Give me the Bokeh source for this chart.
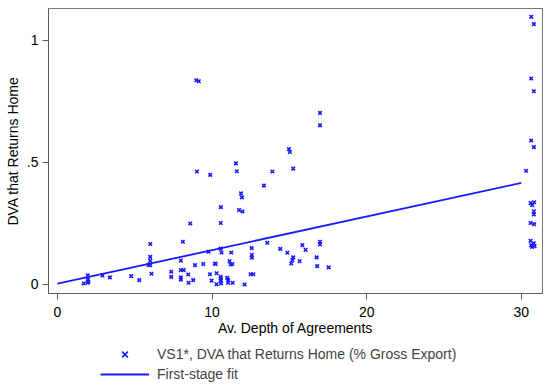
from bokeh.plotting import figure
from bokeh.layouts import column
from bokeh.models import FixedTicker, Range1d, Legend, LegendItem
from bokeh.embed import file_html
from bokeh.resources import INLINE

# Scatter: Av. Depth of Agreements vs VS1* (DVA that returns home)
depth = [1.7, 1.96, 1.96, 1.96, 2.0, 2.91, 3.39, 4.77, 5.29,
         5.89, 6.0, 6.0, 6.0, 6.0, 6.08,
         7.36, 7.36, 7.98, 7.98, 8.17, 7.98, 7.98, 8.11, 8.46, 8.48, 8.59, 8.78, 8.9,
         8.98, 9.14, 9.02, 9.43, 9.77, 9.86, 9.88, 9.97,
         10.18, 10.23, 10.29, 10.29, 10.55, 10.61, 10.57, 10.56,
         10.56, 10.56, 10.57, 10.57, 10.98, 11.04, 11.04, 11.33,
         11.13, 11.2, 11.31, 11.24, 11.54, 11.6, 11.74, 11.97, 11.87, 11.93, 12.1,
         12.49, 12.67, 12.56, 12.57, 12.57, 13.35, 13.57, 13.9,
         14.41, 14.87, 14.97, 15.03, 15.25, 15.25, 15.19, 15.12, 15.66,
         15.84, 16.05, 16.76, 16.8, 16.98, 16.98, 16.98, 16.98, 17.54,
         30.31, 30.64, 30.81, 30.64, 30.81, 30.64, 30.81,
         30.6, 30.83, 30.7, 30.81, 30.81, 30.6, 30.83,
         30.6, 30.64, 30.81, 30.86, 30.7]
vs1 = [0.004, 0.037, 0.02, 0.007, 0.012, 0.037, 0.029, 0.034, 0.018,
       0.08, 0.166, 0.113, 0.097, 0.079, 0.044,
       0.052, 0.031, 0.098, 0.059, 0.059, 0.029, 0.020, 0.175, 0.041, 0.007, 0.25, 0.018, 0.079,
       0.837, 0.833, 0.463, 0.084, 0.134, 0.042, 0.449, 0.016,
       0.086, 0.084, 0.046, 0.001, 0.147, 0.131, 0.317, 0.252,
       0.031, 0.024, 0.016, 0.004, 0.027, 0.018, 0.007, 0.007,
       0.095, 0.082, 0.084, 0.131, 0.496, 0.464, 0.305, 0.299, 0.373, 0.357, 0.0,
       0.042, 0.042, 0.149, 0.121, 0.11, 0.405, 0.171, 0.463,
       0.146, 0.13, 0.555, 0.543, 0.475, 0.111, 0.1, 0.086, 0.095,
       0.161, 0.142, 0.111, 0.075, 0.703, 0.652, 0.175, 0.164, 0.07,
       0.466, 1.097, 1.067, 0.844, 0.792, 0.590, 0.563,
       0.334, 0.337, 0.325, 0.300, 0.287, 0.252, 0.247,
       0.179, 0.161, 0.169, 0.157, 0.154]

# First-stage fit line
fit_x = [0, 30]
fit_y = [0.003, 0.416]

x_ticks = [0, 10, 20, 30]
y_ticks = [0, 0.5, 1]
y_tick_labels = {0: "0", 0.5: ".5", 1: "1"}

legend_labels = ["VS1*, DVA that Returns Home (% Gross Export)", "First-stage fit"]

FONT = "Liberation Sans"
BLUE = "#1a1aff"
AXIS = "#5a5a5a"

p = figure(width=550, height=340, output_backend="svg", toolbar_location=None,
           x_range=Range1d(-0.58, 31.37), y_range=Range1d(-0.037, 1.131),
           min_border_left=48, min_border_right=8, min_border_top=8, min_border_bottom=47)

p.scatter(depth, vs1, marker="x", size=5, line_color=BLUE, line_width=1.6)
p.line(fit_x, fit_y, line_color=BLUE, line_width=1.8)

p.xgrid.visible = False
p.ygrid.visible = False
p.outline_line_color = "#777777"
p.outline_line_width = 1
p.background_fill_color = "white"
p.border_fill_color = "white"

p.xaxis.ticker = FixedTicker(ticks=x_ticks)
p.yaxis.ticker = FixedTicker(ticks=y_ticks)
p.yaxis.major_label_overrides = y_tick_labels
p.xaxis.axis_label = "Av. Depth of Agreements"
p.yaxis.axis_label = "DVA that Returns Home"
for ax in (p.xaxis, p.yaxis):
    ax.axis_line_color = AXIS
    ax.major_tick_line_color = AXIS
    ax.major_tick_out = 6
    ax.major_tick_in = 0
    ax.minor_tick_line_color = None
    ax.major_label_text_font = FONT
    ax.major_label_text_font_size = "14px"
    ax.major_label_text_color = "black"
    ax.axis_label_text_font = FONT
    ax.axis_label_text_font_size = "14px"
    ax.axis_label_text_font_style = "normal"
    ax.axis_label_text_color = "black"
p.xaxis.major_label_standoff = 7
p.xaxis.axis_label_standoff = 0
p.yaxis.major_label_standoff = 4
p.yaxis.axis_label_standoff = 3
p.yaxis.major_label_orientation = "horizontal"

# Legend strip below the plot (its glyphs sit outside its visible range)
lg = figure(width=550, height=47, output_backend="svg", toolbar_location=None,
            x_range=Range1d(-100, -99), y_range=Range1d(-100, -99),
            min_border=0, x_axis_location=None, y_axis_location=None)
lg.xgrid.visible = False
lg.ygrid.visible = False
lg.outline_line_color = None
k_sc = lg.scatter(depth, vs1, marker="x", size=5, line_color=BLUE, line_width=1.6)
k_ln = lg.line(fit_x, fit_y, line_color=BLUE, line_width=1.8)

legend = Legend(items=[
    LegendItem(label=legend_labels[0], renderers=[k_sc]),
    LegendItem(label=legend_labels[1], renderers=[k_ln]),
], location=(52, 3), orientation="vertical")
legend.label_text_font = FONT
legend.label_text_font_size = "14px"
legend.glyph_width = 49
legend.glyph_height = 20
legend.label_height = 20
legend.label_standoff = 8
legend.spacing = 0
legend.padding = 0
legend.margin = 0
legend.border_line_color = None
legend.background_fill_alpha = 0
lg.add_layout(legend, "center")

layout = column(p, lg, spacing=0)
open("out.html", "w").write(file_html(layout, INLINE))
